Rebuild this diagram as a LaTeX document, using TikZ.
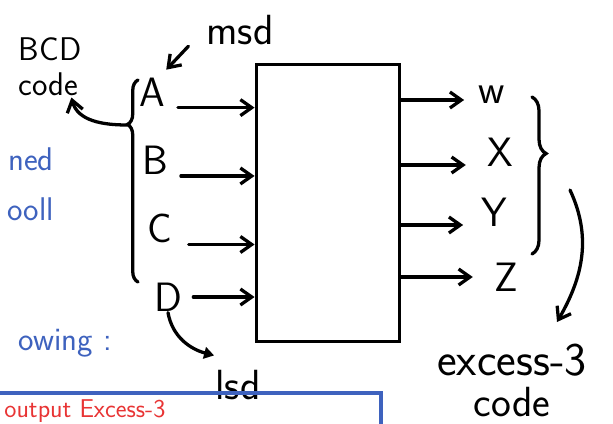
\documentclass[tikz,border=0pt]{standalone}
\usepackage{tikz}
\usetikzlibrary{arrows.meta,decorations.pathreplacing}
\definecolor{inkblue}{RGB}{62,98,190}
\definecolor{inkred}{RGB}{232,52,52}
\tikzstyle{pin} = [font=\sffamily\fontsize{35}{36}\selectfont, inner sep=1pt]
\tikzstyle{note} = [font=\sffamily\fontsize{36}{30}\selectfont, inner sep=1pt]
\tikzstyle{margin} = [font=\sffamily\fontsize{28}{30}\selectfont, text=inkblue, inner sep=0pt]
\tikzstyle{block} = [rectangle, draw=black, line width=3pt, minimum width=4.3cm, minimum height=8.3cm]
\tikzstyle{arrow} = [line width=2.8pt, line cap=round, -{Straight Barb[length=3.4mm,width=4.8mm]}]
\tikzstyle{brace} = [line width=2.8pt, line cap=round, decorate]

\begin{document}
\begin{tikzpicture}[x=0.03cm, y=0.03cm, node distance=2.05cm]
        \useasboundingbox (0,0) rectangle (613,-424);
        \node(box) [block] at (328,-203) {};
        % inputs
        \node(inA) [pin] at (152,-92) {A};
        \node(inB) [pin, below of = inA, xshift=0.09cm] {B};
        \node(inC) [pin, below of = inB, xshift=0.15cm] {C};
        \node(inD) [pin, below of = inC, xshift=0.24cm] {D};
        % outputs
        \node(outW) [pin] at (492,-95) {w};
        \node(outX) [pin] at (500,-152) {X};
        \node(outY) [pin] at (494,-212) {Y};
        \node(outZ) [pin] at (506,-277) {Z};
        % notes
        \node(msd) [note] at (240,-30) {msd};
        \node(bcd) [note, align=left, font=\sffamily\fontsize{28}{30}\selectfont] at (50,-67) {BCD\\code};
        \node(lsd) [note] at (238,-385) {lsd};
        \node(exc) [note, font=\sffamily\fontsize{40}{40}\selectfont] at (512,-360) {excess-3};
        \node(code3) [note, below of = exc, node distance=1.25cm] {code};
        % page around the sketch
        \node(ned) [margin, anchor=base east] at (54,-170) {ned};
        \node(ooll) [margin, anchor=base east] at (54,-220) {ooll};
        \node(owing) [margin, anchor=base east] at (112,-350) {owing :};
        \draw [inkblue, line width=3pt] (-5,-393)--(381,-393)--(381,-430);
        \node(outtext) [anchor=base west, text=inkred, font=\sffamily\fontsize{22}{24}\selectfont, inner sep=1pt] at (3,-417) {output Excess-3};
        \draw [arrow] ([xshift=0.35cm]inA.south east)--(inA.south east -| box.west);
        \draw [arrow] ([xshift=0.35cm]inB.south east)--(inB.south east -| box.west);
        \draw [arrow] ([xshift=0.45cm]inC.south east)--(inC.south east -| box.west);
        \draw [arrow] ([xshift=0.30cm]inD.east)--(inD.east -| box.west);
        \draw [arrow] ([yshift=-0.15cm]box.east |- outW)--([xshift=-0.4cm,yshift=-0.15cm]outW.west);
        \draw [arrow] ([yshift=-0.39cm]box.east |- outX)--([xshift=-0.6cm,yshift=-0.39cm]outX.west);
        \draw [arrow] ([yshift=-0.39cm]box.east |- outY)--([xshift=-0.5cm,yshift=-0.39cm]outY.west);
        \draw [arrow] (box.east |- outZ)--([xshift=-0.6cm]outZ.west);
        % braces
        \coordinate(lbTop) at (138,-80);
        \coordinate(lbBot) at (138,-282);
        \coordinate(lbTip) at (127,-125);
        \draw [brace, decoration={brace, amplitude=9pt, aspect=0.78}] (lbBot)--(lbTop);
        \coordinate(rbTop) at (532,-97);
        \coordinate(rbBot) at (532,-254);
        \draw [brace, decoration={brace, amplitude=12pt, aspect=0.36}] (rbTop)--(rbBot);
        % pointers
        \draw [arrow] (lbTip) to[out=180, in=-75] (bcd.-55);
        \draw [arrow] ([xshift=-0.5cm]msd.south west)--([yshift=0.2cm]inA.north east);
        \draw [arrow, -{Triangle[length=3mm,width=3.5mm]}] (inD.south) to[out=-80, in=165] ([yshift=0.4cm]lsd.north west);
        \coordinate(exStart) at (570,-190);
        \coordinate(exTip) at (557,-322);
        \draw [arrow] (exStart) to[out=-65, in=60] (exTip);
    \end{tikzpicture}
\end{document}
